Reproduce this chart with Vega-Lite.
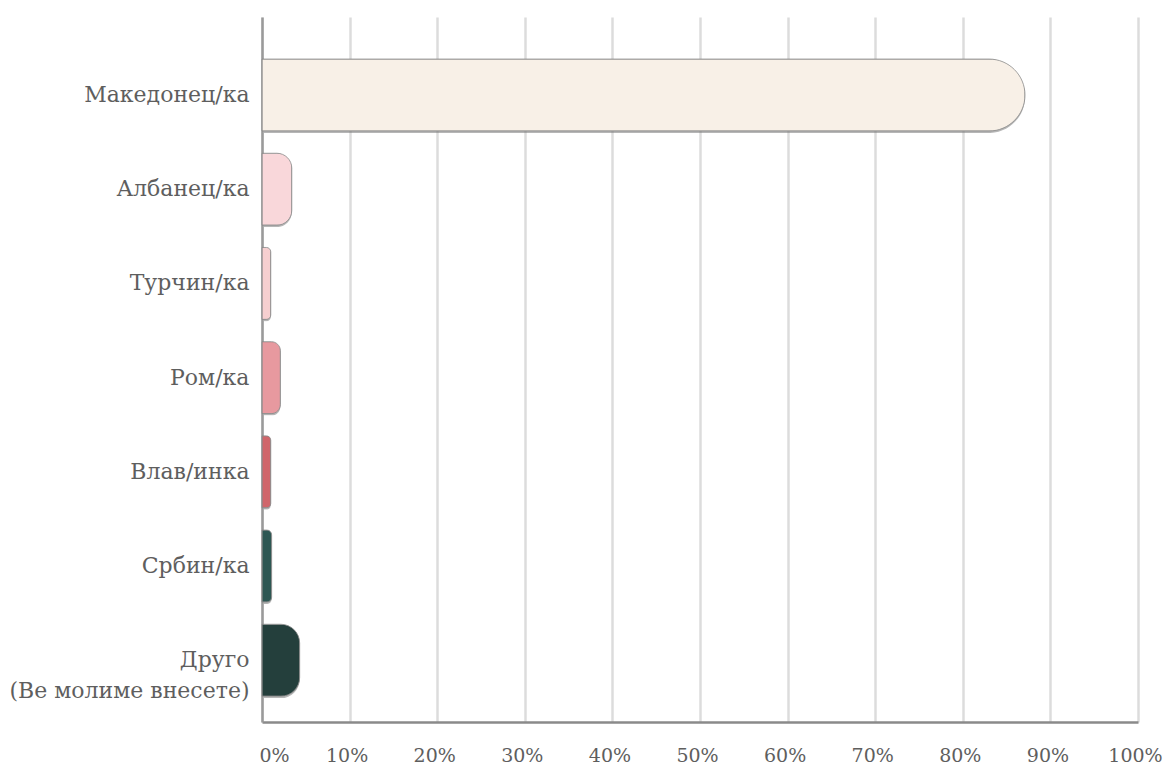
{
  "$schema": "https://vega.github.io/schema/vega-lite/v6.json",
  "autosize": "none",
  "width": 876,
  "height": 705,
  "padding": {"left": 262, "top": 17, "right": 27, "bottom": 47},
  "background": "white",
  "config": {
    "view": {"stroke": null},
    "font": "DejaVu Serif"
  },
  "data": {
    "values": [
      {"category": "Македонец/ка", "value": 87.1, "color": "#F8F0E7"},
      {"category": "Албанец/ка", "value": 3.4, "color": "#F9D7DA"},
      {"category": "Турчин/ка", "value": 1.0, "color": "#F6CFD0"},
      {"category": "Ром/ка", "value": 2.1, "color": "#E7999F"},
      {"category": "Влав/инка", "value": 1.0, "color": "#D0666B"},
      {"category": "Србин/ка", "value": 1.1, "color": "#2D5753"},
      {"category": "Друго|(Ве молиме внесете)", "value": 4.3, "color": "#243F3C"}
    ]
  },
  "encoding": {
    "y": {
      "field": "category",
      "type": "nominal",
      "sort": null,
      "scale": {"paddingInner": 0.236, "paddingOuter": 0.36, "align": 0.62},
      "axis": {
        "title": null,
        "labelExpr": "split(datum.label, '|')",
        "labelFont": "DejaVu Serif",
        "labelFontSize": 22,
        "labelColor": "#5e5e5e",
        "labelPadding": 13,
        "labelLineHeight": 31,
        "labelLimit": 400,
        "ticks": false,
        "domain": true,
        "domainColor": "#9a9a9a",
        "domainWidth": 2.5
      }
    },
    "x": {
      "field": "value",
      "type": "quantitative",
      "scale": {"domain": [0, 100]},
      "axis": {
        "title": null,
        "values": [0, 10, 20, 30, 40, 50, 60, 70, 80, 90, 100],
        "labelExpr": "datum.value + '%'",
        "labelFont": "DejaVu Serif",
        "labelFontSize": 19,
        "labelColor": "#5e5e5e",
        "labelPadding": 24,
        "labelFlush": false,
        "labelAlign": {"expr": "datum.value == 0 ? 'left' : 'center'"},
        "labelOffset": -3,
        "ticks": false,
        "grid": true,
        "gridColor": "#dcdcdc",
        "gridWidth": 2.5,
        "domainColor": "#8a8a8a",
        "domainWidth": 2.5
      }
    }
  },
  "layer": [
    {
      "mark": {"type": "bar", "cornerRadiusEnd": 36, "color": "#7a7a7a", "opacity": 0.55, "xOffset": 2, "yOffset": 2}
    },
    {
      "mark": {"type": "bar", "cornerRadiusEnd": 36, "stroke": "#8a8a8a", "strokeWidth": 0.8},
      "encoding": {
        "color": {"field": "color", "type": "nominal", "scale": null, "legend": null}
      }
    }
  ]
}
